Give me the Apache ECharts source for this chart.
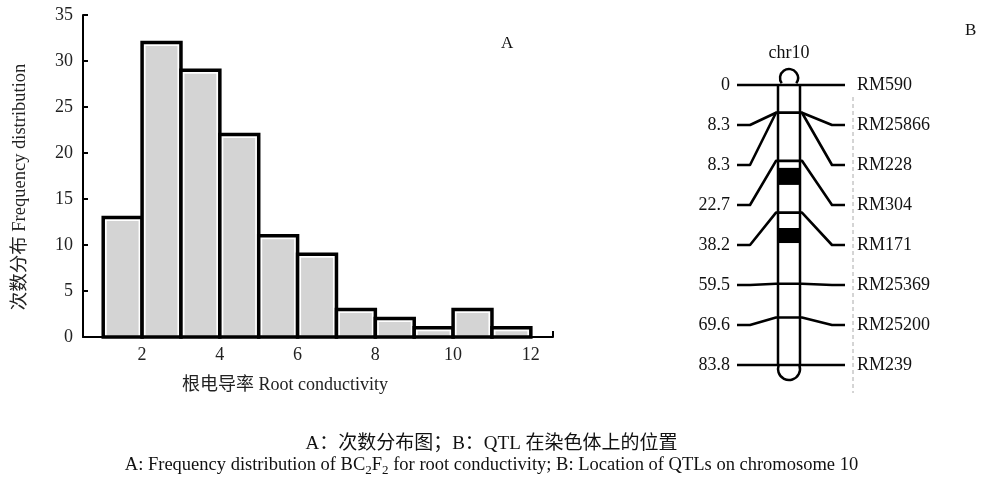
<!DOCTYPE html>
<html><head><meta charset="utf-8">
<script src="https://cdn.jsdelivr.net/npm/echarts@6/dist/echarts.min.js"></script>
<style>html,body{margin:0;padding:0;background:#fff}#c{width:983px;height:483px}</style>
</head><body><div id="c"></div>
<script>
// ---- Panel A: histogram data ----
const binStart = [1, 2, 3, 4, 5, 6, 7, 8, 9, 10, 11];
const binEnd   = [2, 3, 4, 5, 6, 7, 8, 9, 10, 11, 12];
const counts   = [13, 32, 29, 22, 11, 9, 3, 2, 1, 3, 1];
const xTicks   = [2, 4, 6, 8, 10, 12];
const yTicks   = [0, 5, 10, 15, 20, 25, 30, 35];

// ---- Panel B: chromosome map data ----
const markerNames = ['RM590', 'RM25866', 'RM228', 'RM304', 'RM171', 'RM25369', 'RM25200', 'RM239'];
const markerPos   = [0, 8.3, 8.3, 22.7, 38.2, 59.5, 69.6, 83.8];
const qtlStart    = [24.8, 42.8];
const qtlEnd      = [29.9, 47.3];
const chrName     = 'chr10';

const SERIF = '"Liberation Serif", "Times New Roman", "Noto Sans CJK SC", serif';
const xMin = 0.48, xMax = 12.57;
const chrLen = Math.max.apply(null, markerPos);
const nM = markerNames.length;

const histData = binStart.map((s, i) => [s, binEnd[i], counts[i]]);
const markerData = markerPos.map((p, i) => [p, i * chrLen / (nM - 1), i]);
const qtlData = qtlStart.map((s, i) => [s, qtlEnd[i]]);

const chart = echarts.init(document.getElementById('c'), null, {renderer: 'canvas'});

// x positions (in panel B x-units) of the map parts
const BX = {lineL: 0, kneeL: 13, chrL: 41, chrR: 63, kneeR: 95, lineR: 108, dash: 116};

chart.setOption({
  animation: false,
  backgroundColor: '#fff',
  title: [
    {text: 'A', left: 496, top: 30, textStyle: {fontFamily: SERIF, fontSize: 17, fontWeight: 'normal', color: '#111'}},
    {text: 'B', left: 960, top: 17, textStyle: {fontFamily: SERIF, fontSize: 17, fontWeight: 'normal', color: '#111'}},
    {text: 'A：次数分布图；B：QTL 在染色体上的位置', left: 'center', top: 430,
     textStyle: {fontFamily: SERIF, fontSize: 19, fontWeight: 'normal', color: '#111'}},
    {text: '{n|A: Frequency distribution of BC}{s|2}{n|F}{s|2}{n| for root conductivity; B: Location of QTLs on chromosome 10}',
     left: 'center', top: 448,
     textStyle: {fontFamily: SERIF, fontSize: 18.5, fontWeight: 'normal', color: '#111',
       rich: {
         n: {fontFamily: SERIF, fontSize: 18.5, color: '#111', lineHeight: 21, verticalAlign: 'bottom'},
         s: {fontFamily: SERIF, fontSize: 13, color: '#111', lineHeight: 15, verticalAlign: 'bottom', padding: [0, 0, -3, 0]}
       }}}
  ],
  grid: [
    {left: 83, top: 15, width: 470, height: 322},
    {left: 737, top: 85, width: 108, height: 280}
  ],
  xAxis: [
    {type: 'value', gridIndex: 0, min: xMin, max: xMax,
     axisLine: {show: true, onZero: false, lineStyle: {color: '#000', width: 2}},
     axisTick: {show: true, inside: true, length: 6, customValues: [xMax], lineStyle: {color: '#000', width: 2}},
     splitLine: {show: false},
     axisLabel: {customValues: xTicks, margin: 9, fontFamily: SERIF, fontSize: 18, color: '#222'},
     name: '根电导率 Root conductivity', nameLocation: 'middle', nameGap: 39,
     nameTextStyle: {fontFamily: SERIF, fontSize: 18, color: '#222', padding: [0, 66, 0, 0]}},
    {type: 'value', gridIndex: 1, min: 0, max: 108, show: false}
  ],
  yAxis: [
    {type: 'value', gridIndex: 0, min: 0, max: 35, interval: 5,
     axisLine: {show: true, lineStyle: {color: '#000', width: 2}},
     axisTick: {show: true, inside: true, length: 5, lineStyle: {color: '#000', width: 2}},
     splitLine: {show: false},
     axisLabel: {margin: 10, fontFamily: SERIF, fontSize: 18, color: '#222'},
     name: '次数分布 Frequency distribution', nameLocation: 'middle', nameGap: 54, nameRotate: 90,
     nameTextStyle: {fontFamily: SERIF, fontSize: 18.5, color: '#222', padding: [0, 22, 0, 0]}},
    {type: 'value', gridIndex: 1, min: 0, max: chrLen, inverse: true, show: false}
  ],
  series: [
    {
      type: 'custom', xAxisIndex: 0, yAxisIndex: 0,
      data: histData,
      renderItem: function (params, api) {
        const p0 = api.coord([api.value(0), api.value(2)]);
        const p1 = api.coord([api.value(1), 0]);
        const x = p0[0], y = p0[1], w = p1[0] - p0[0], h = p1[1] - p0[1];
        return {
          type: 'group',
          children: [
            {type: 'rect', shape: {x: x, y: y, width: w, height: h}, style: {fill: '#fff', stroke: 'none'}},
            {type: 'rect', shape: {x: x + 3.5, y: y + 3.5, width: w - 7, height: h - 5}, style: {fill: '#d4d4d4', stroke: 'none'}},
            {type: 'rect', shape: {x: x, y: y, width: w, height: h}, style: {fill: 'none', stroke: '#000', lineWidth: 3.5}}
          ]
        };
      }
    },
    // chromosome body
    {
      type: 'custom', xAxisIndex: 1, yAxisIndex: 1,
      data: [[0, chrLen]],
      renderItem: function (params, api) {
        const top = api.coord([BX.chrL, api.value(0)]);
        const bot = api.coord([BX.chrR, api.value(1)]);
        const xl = top[0], xr = bot[0], yt = top[1], yb = bot[1];
        const cx = (xl + xr) / 2;
        const dx = api.coord([BX.dash, 0])[0];
        return {
          type: 'group',
          children: [
            {type: 'line', shape: {x1: dx, y1: yt + 12, x2: dx, y2: yb + 28},
             style: {stroke: '#aaa', lineWidth: 1, lineDash: [4, 3]}},
            {type: 'rect', shape: {x: xl, y: yt, width: xr - xl, height: yb - yt}, style: {fill: '#fff', stroke: 'none'}},
            {type: 'line', shape: {x1: xl, y1: yt, x2: xl, y2: yb}, style: {stroke: '#000', lineWidth: 2.5}},
            {type: 'line', shape: {x1: xr, y1: yt, x2: xr, y2: yb}, style: {stroke: '#000', lineWidth: 2.5}},
            {type: 'arc', shape: {cx: cx, cy: yt - 7, r: 9, startAngle: 0.8 * Math.PI, endAngle: 2.2 * Math.PI, clockwise: true},
             style: {stroke: '#000', lineWidth: 2.5, fill: 'none'}},
            {type: 'arc', shape: {cx: cx, cy: yb + 4, r: 11, startAngle: -0.1 * Math.PI, endAngle: 1.1 * Math.PI, clockwise: true},
             style: {stroke: '#000', lineWidth: 2.5, fill: 'none'}},
            {type: 'text', style: {x: cx, y: yt - 32, text: chrName, textAlign: 'center', textVerticalAlign: 'middle',
              fontFamily: SERIF, fontSize: 18, fill: '#111'}}
          ]
        };
      }
    },
    // QTL boxes
    {
      type: 'custom', xAxisIndex: 1, yAxisIndex: 1,
      data: qtlData,
      renderItem: function (params, api) {
        const a = api.coord([BX.chrL, api.value(0)]);
        const b = api.coord([BX.chrR, api.value(1)]);
        return {type: 'rect', shape: {x: a[0], y: a[1], width: b[0] - a[0], height: b[1] - a[1]}, style: {fill: '#000'}};
      }
    },
    // markers
    {
      type: 'custom', xAxisIndex: 1, yAxisIndex: 1,
      data: markerData,
      renderItem: function (params, api) {
        const pos = api.value(0), slot = api.value(1), idx = api.value(2);
        const yp = api.coord([0, pos])[1];
        const ys = api.coord([0, slot])[1];
        const X = k => api.coord([BX[k], 0])[0];
        return {
          type: 'group',
          children: [
            {type: 'polyline', shape: {points: [[X('lineL'), ys], [X('kneeL'), ys], [X('chrL') - 2, yp], [X('chrR') + 2, yp], [X('kneeR'), ys], [X('lineR'), ys]]},
             style: {stroke: '#000', lineWidth: 2.6, fill: 'none', lineJoin: 'round'}},
            {type: 'text', style: {x: X('lineL') - 7, y: ys, text: String(markerPos[idx]), textAlign: 'right', textVerticalAlign: 'middle',
              fontFamily: SERIF, fontSize: 18, fill: '#111'}},
            {type: 'text', style: {x: X('lineR') + 12, y: ys, text: markerNames[idx], textAlign: 'left', textVerticalAlign: 'middle',
              fontFamily: SERIF, fontSize: 18, fill: '#111'}}
          ]
        };
      }
    }
  ]
});
</script>
</body></html>
